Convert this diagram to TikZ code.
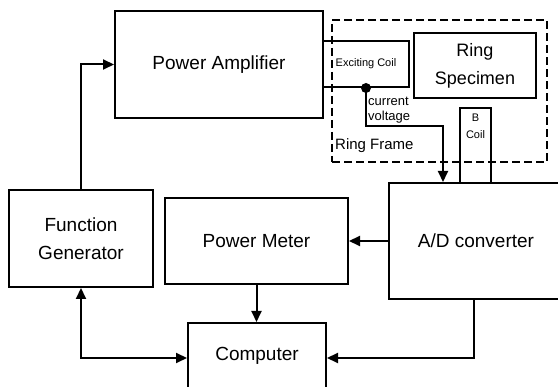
\documentclass[tikz,border=0pt]{standalone}
\usepackage{fontspec}
\setmainfont{Liberation Sans}
\usetikzlibrary{arrows.meta}

\begin{document}
\begin{tikzpicture}[
  x=1pt,y=-1pt,
  font=\fontsize{19}{28}\selectfont,
  blk/.style={draw,line width=2pt,inner sep=0pt,align=center},
  frm/.style={draw,line width=2.8pt,dash pattern=on 8pt off 4pt},
  sm/.style={font=\fontsize{11}{17}\selectfont,inner sep=0pt,align=center},
  fl/.style={-{Triangle[length=11pt,width=10pt]},line width=2pt},
  fl2/.style={{Triangle[length=11pt,width=10pt]}-{Triangle[length=11pt,width=10pt]},line width=2pt}]
\useasboundingbox (0,0) rectangle (558,387);
% ring frame
\node[frm,minimum width=215,minimum height=142] (rf) at (439.5,91) {};
\node[anchor=west,inner sep=0pt,font=\fontsize{15}{18}\selectfont] (rflbl) at (335,146) {Ring Frame};
% blocks
\node[blk,minimum width=208,minimum height=107] (pa) at (219,64.5) {Power Amplifier};
\node[blk,minimum width=86,minimum height=46,font=\fontsize{11}{13}\selectfont] (ec) at (366,64) {Exciting Coil};
\node[blk,minimum width=122,minimum height=65,font=\fontsize{18}{28}\selectfont] (rs) at (475,65.5) {Ring\\Specimen};
\node[blk,minimum width=31,minimum height=75] (bc) at (475.5,145.5) {};
\node[sm] (bclbl) at (475.5,126) {B\\Coil};
\node[blk,minimum width=174,minimum height=116] (ad) at (476,241) {A/D converter};
\node[blk,minimum width=144,minimum height=97] (fg) at (81,238.5) {Function\\Generator};
\node[blk,minimum width=183,minimum height=86] (pm) at (256.5,241) {Power Meter};
\node[blk,minimum width=138,minimum height=66] (cp) at (257,356) {Computer};
% signals
\draw[fl] (fg.north) |- (pa.west);
\fill (ec.south) circle (5);
\draw[fl] (ec.south) -- ++(0,38) -| ([xshift=-33]ad.north);
\node[anchor=west,inner sep=0pt,align=left,font=\fontsize{13}{15}\selectfont] (cv) at (368,110) {current\\voltage};
\draw[fl] (ad.west |- pm.east) -- (pm.east);
\draw[fl] (pm.south) -- (pm.south |- cp.north);
\draw[fl2] (fg.south) |- ([yshift=-2]cp.west);
\draw[fl] ([xshift=-2]ad.south) |- ([yshift=-2]cp.east);
\end{tikzpicture}
\end{document}
